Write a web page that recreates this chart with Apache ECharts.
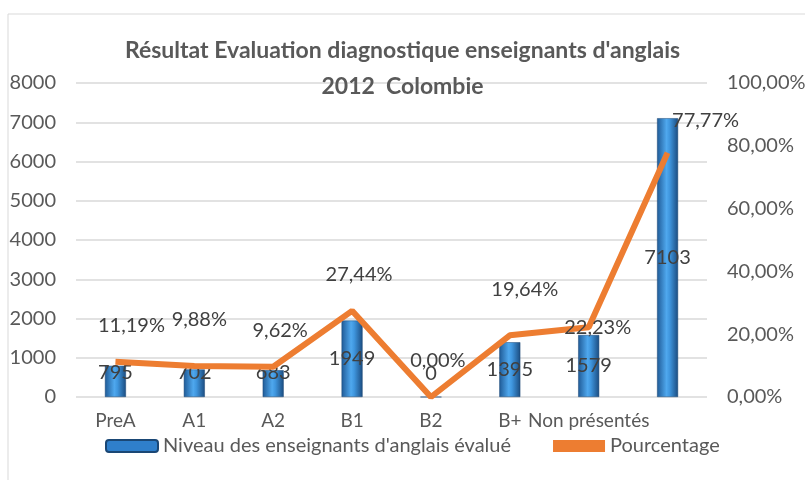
<!DOCTYPE html>
<html>
<head>
<meta charset="utf-8">
<script src="https://cdn.jsdelivr.net/npm/echarts@6/dist/echarts.min.js"></script>
<style>
  html, body { margin: 0; padding: 0; background: #fff; }
  #chart { width: 805px; height: 480px; }
</style>
</head>
<body>
<div id="chart"></div>
<script>
// données
var categories = ['PreA', 'A1', 'A2', 'B1', 'B2', 'B+', 'Non présentés', ''];
var niveaux = [795, 702, 683, 1949, 0, 1395, 1579, 7103];
var pourcentages = [11.19, 9.88, 9.62, 27.44, 0, 19.64, 22.23, 77.77];
var leftTicks = [0, 1000, 2000, 3000, 4000, 5000, 6000, 7000, 8000];
var rightTicks = [0, 20, 40, 60, 80, 100];

var txt = '#595959';
var fontFam = 'Lato, "Open Sans", sans-serif';

function pct(v) {
  return v.toFixed(2).replace('.', ',') + '%';
}

var chartDom = document.getElementById('chart');
var myChart = echarts.init(chartDom);

var barGradient = new echarts.graphic.LinearGradient(0, 0, 1, 0, [
  {offset: 0, color: '#1f5a96'},
  {offset: 0.45, color: '#4fa8ee'},
  {offset: 0.6, color: '#3f96de'},
  {offset: 1, color: '#1b4c80'}
]);

// petites barres : étiquette un peu au-dessus du bas
var barData = niveaux.map(function (v) {
  if (v < 1000) {
    return {value: v, label: {position: 'insideBottom', distance: 14}};
  }
  return v;
});

// étiquettes du pourcentage décalées un peu à droite comme dans Excel
var lineData = pourcentages.map(function (v, i) {
  if (i === 0) return {value: v, label: {padding: [0, 0, 0, 32]}};
  if (i === 1) return {value: v, label: {padding: [0, 0, 0, 10], distance: 36}};
  if (i === 5) return {value: v, label: {padding: [0, 0, 0, 30], distance: 36}};
  if (i === 6) return {value: v, label: {position: 'top', distance: -10, padding: [0, 0, 0, 18]}};
  if (i === 7) return {value: v, label: {padding: [0, 0, 0, 76], distance: 22}};
  return {value: v, label: {padding: [0, 0, 0, 14]}};
});

var option = {
  animation: false,
  title: {
    text: "Résultat Evaluation diagnostique enseignants d'anglais\n2012  Colombie",
    left: 'center',
    top: 28,
    textStyle: {
      fontFamily: fontFam,
      fontSize: 23,
      fontWeight: 'bold',
      color: txt,
      lineHeight: 36
    }
  },
  graphic: [{
    type: 'rect',
    shape: {x: 8, y: 14, width: 900, height: 600},
    style: {fill: 'none', stroke: '#d9d9d9', lineWidth: 1},
    silent: true,
    z: -1
  }],
  legend: {
    bottom: 19,
    left: 100,
    itemGap: 42,
    itemWidth: 52,
    itemHeight: 12,
    textStyle: {fontFamily: fontFam, fontSize: 20, color: txt},
    data: [
      {name: "Niveau des enseignants d'anglais évalué", itemStyle: {color: '#2f7fcb'}},
      {name: 'Pourcentage', icon: 'rect', itemStyle: {color: '#ED7D31'}}
    ]
  },
  grid: {left: 76, right: 98, top: 83, bottom: 83, outerBoundsMode: 'none'},
  xAxis: {
    type: 'category',
    data: categories,
    axisLine: {show: false},
    axisTick: {show: false},
    axisLabel: {interval: 0, color: txt, fontFamily: fontFam, fontSize: 19, margin: 14}
  },
  yAxis: [{
    type: 'value',
    min: leftTicks[0],
    max: leftTicks[leftTicks.length - 1],
    interval: 1000,
    axisLabel: {
      color: txt, fontFamily: fontFam, fontSize: 20, margin: 20,
      formatter: function (v) { return String(v); }
    },
    splitLine: {lineStyle: {color: '#d9d9d9', width: 1.5}}
  }, {
    type: 'value',
    min: rightTicks[0],
    max: rightTicks[rightTicks.length - 1],
    interval: 20,
    axisLabel: {
      color: txt, fontFamily: fontFam, fontSize: 20, margin: 20,
      formatter: function (v) { return pct(v); }
    },
    splitLine: {show: false}
  }],
  series: [{
    name: "Niveau des enseignants d'anglais évalué",
    type: 'bar',
    barWidth: 21,
    data: barData,
    itemStyle: {color: barGradient, borderColor: '#1a4775', borderWidth: 0.5},
    label: {
      show: true,
      position: 'inside',
      color: '#404040',
      fontFamily: fontFam,
      fontSize: 20
    }
  }, {
    name: 'Pourcentage',
    type: 'line',
    yAxisIndex: 1,
    data: lineData,
    symbol: 'circle',
    symbolSize: 0.1,
    showSymbol: true,
    lineStyle: {color: '#ED7D31', width: 6},
    itemStyle: {color: '#ED7D31'},
    label: {
      show: true,
      position: 'top',
      distance: 26,
      color: '#404040',
      fontFamily: fontFam,
      fontSize: 20,
      formatter: function (p) { return pct(p.value); }
    },
    labelLayout: {hideOverlap: false},
    z: 3
  }]
};
myChart.setOption(option);
</script>
</body>
</html>
